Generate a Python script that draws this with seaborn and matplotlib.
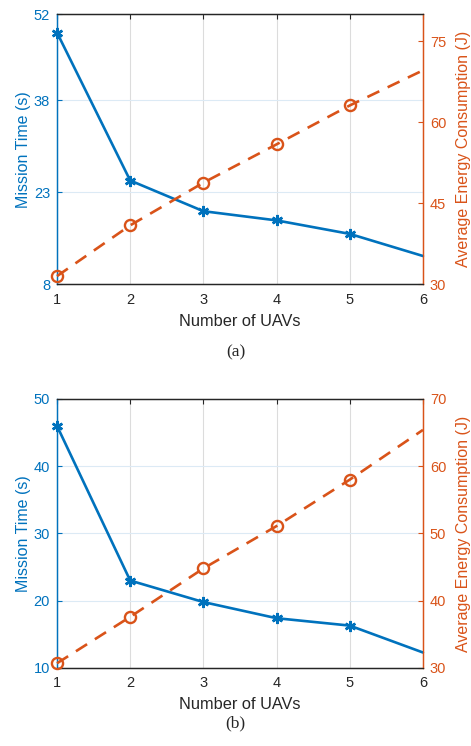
#Mission time and energy vs number of UAVs

#Importing libraries
import numpy as np
import pandas as pd
import matplotlib.pyplot as plt
import seaborn as sns

#Data
uavs = [1, 2, 3, 4, 5, 6]
time_a = [49.0, 24.9, 19.9, 18.4, 16.2, 12.6]
energy_a = [31.5, 40.9, 48.8, 55.9, 63.1, 69.6]
time_b = [46.0, 23.0, 19.8, 17.4, 16.3, 12.3]
energy_b = [30.7, 37.6, 44.8, 51.1, 58.0, 65.4]

left_ticks_a = [8, 23, 38, 52]
right_ticks_a = [30, 45, 60, 75]
left_ticks_b = [10, 20, 30, 40, 50]
right_ticks_b = [30, 40, 50, 60, 70]

blue = "#0072BD"
orange = "#D95319"

sns.set_style("white")
plt.rcParams["font.family"] = ["Liberation Sans", "DejaVu Sans"]

fig = plt.figure(figsize=(4.71, 7.46), dpi=100)


def panel(rect, time, energy, lticks, llim, rticks, rlim, caption, cap_y):
    df = pd.DataFrame({"uavs": uavs, "time": time, "energy": energy})
    ax = fig.add_axes(rect)
    ax2 = ax.twinx()

    sns.lineplot(data=df, x="uavs", y="time", ax=ax, color=blue, lw=1.9,
                 marker=(6, 2, 0), markersize=8, markeredgewidth=1.8,
                 markeredgecolor=blue, markevery=[0, 1, 2, 3, 4], clip_on=False, zorder=3)
    sns.lineplot(data=df, x="uavs", y="energy", ax=ax2, color=orange, lw=1.9,
                 linestyle=(0, (5, 3.5)), marker="o", markersize=8,
                 markerfacecolor="none", markeredgecolor=orange, markeredgewidth=1.7,
                 markevery=[0, 1, 2, 3, 4], clip_on=False, zorder=3)

    ax.set_xlim(1, 6)
    ax.set_ylim(*llim)
    ax2.set_ylim(*rlim)
    ax.set_xticks(uavs)
    ax.set_yticks(lticks)
    ax2.set_yticks(rticks)

    #grid: vertical gray, horizontal light blue like matlab yyaxis
    ax.xaxis.grid(True, color="#dcdcdc", lw=0.8)
    ax.yaxis.grid(True, color="#dceaf5", lw=0.8)
    ax.set_axisbelow(True)

    ax.set_xlabel("Number of UAVs", fontsize=11.8, color="#262626", labelpad=5)
    ax.set_ylabel("Mission Time (s)", fontsize=11.5, color=blue, labelpad=2)
    ax2.set_ylabel("Average Energy Consumption (J)", fontsize=11.5, color=orange, labelpad=7)

    ax.tick_params(axis="x", direction="in", top=True, length=3.5, labelsize=10.5,
                   colors="#262626", width=0.8, pad=6)
    ax.tick_params(axis="y", direction="in", length=3.5, labelsize=10.5,
                   colors=blue, width=0.8, right=False, pad=5)
    ax2.tick_params(axis="y", direction="in", length=3.5, labelsize=10.5,
                    colors=orange, width=0.8, pad=5)

    for a in (ax, ax2):
        a.spines["top"].set_color("#262626")
        a.spines["bottom"].set_color("#262626")
        a.spines["left"].set_color(blue)
        a.spines["right"].set_color(orange)
        for s in a.spines.values():
            s.set_linewidth(0.9)

    fig.text(0.5, cap_y, caption, ha="center", va="center", fontsize=12.5,
             family=["Liberation Serif", "DejaVu Serif"])


panel([0.121, 0.619, 0.777, 0.362], time_a, energy_a, left_ticks_a, (8, 52),
      right_ticks_a, (30, 80), "(a)", 0.527)
panel([0.121, 0.1046, 0.777, 0.3606], time_b, energy_b, left_ticks_b, (10, 50),
      right_ticks_b, (30, 70), "(b)", 0.030)

plt.savefig("out.png", dpi=100)
